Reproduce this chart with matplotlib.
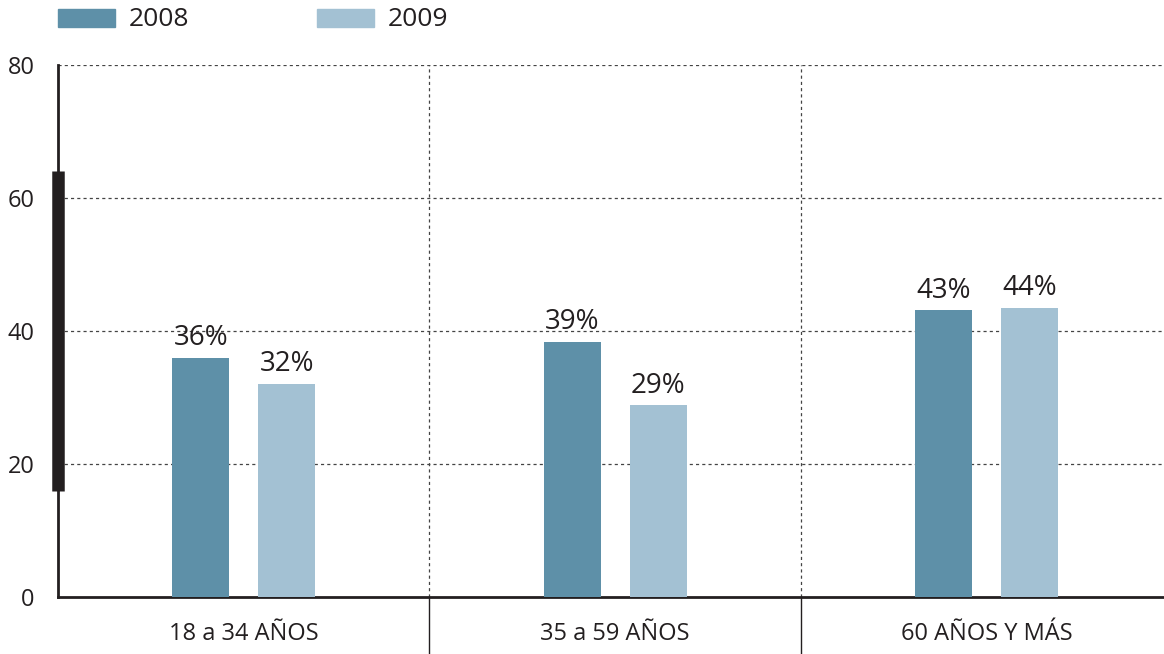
import matplotlib.pyplot as plt
from matplotlib.patches import Rectangle
import numpy as np

plt.rcParams['font.family'] = ['Open Sans', 'DejaVu Sans']

# Data
categories = ['18 a 34 AÑOS', '35 a 59 AÑOS', '60 AÑOS Y MÁS']
series = ['2008', '2009']
vals_2008 = [36, 38.4, 43.1]
vals_2009 = [32.1, 28.8, 43.5]
labels_2008 = ['36%', '39%', '43%']
labels_2009 = ['32%', '29%', '44%']
yticks = [0, 20, 40, 60, 80]

c2008 = '#5e90a8'
c2009 = '#a3c1d3'
dark = '#231f20'

W, H = 1164, 654
fig = plt.figure(figsize=(W / 100, H / 100), dpi=100)
ax = fig.add_axes([58 / W, 57 / H, 1 - 58 / W, (597 - 65) / H])

x = np.arange(len(categories))
w = 0.153
off = 0.116
b1 = ax.bar(x - off, vals_2008, w, color=c2008, zorder=3)
b2 = ax.bar(x + off, vals_2009, w, color=c2009, zorder=3)

for bars, labs in ((b1, labels_2008), (b2, labels_2009)):
    for rect, lab in zip(bars, labs):
        ax.annotate(lab, (rect.get_x() + rect.get_width() / 2, rect.get_height()),
                    xytext=(0, 4), textcoords='offset points',
                    ha='center', va='bottom', fontsize=20, color=dark)

ax.set_xlim(-0.5, -0.5 + (W - 58) / 371.5)
ax.set_ylim(0, 80)

# dotted grid
for yv in yticks[1:]:
    ax.axhline(yv, color='#444444', lw=0.9, ls=(0, (2.5, 2.5)), zorder=1)
for xv in (0.5, 1.5):
    ax.plot([xv, xv], [0, 80], color='#444444', lw=0.9, ls=(0, (2.5, 2.5)), zorder=1)
    ax.plot([xv, xv], [0, -8.5], color=dark, lw=1.0, clip_on=False, zorder=1)

# thick marker on the left axis
ax.plot([0, 0], [16, 64], transform=ax.get_yaxis_transform(), color=dark,
        lw=9, solid_capstyle='butt', clip_on=False, zorder=5)

for s in ('top', 'right'):
    ax.spines[s].set_visible(False)
for s in ('left', 'bottom'):
    ax.spines[s].set_color(dark)
    ax.spines[s].set_linewidth(2)

ax.set_yticks(yticks)
ax.set_yticklabels([str(v) for v in yticks], fontsize=17, color=dark)
ax.set_xticks(x)
ax.set_xticklabels(categories, fontsize=17, color=dark)
ax.tick_params(axis='both', length=0)
ax.tick_params(axis='y', pad=17)
ax.tick_params(axis='x', pad=18)

# legend at the top
for name, col, x0 in zip(series, [c2008, c2009], [58, 317]):
    fig.patches.append(Rectangle((x0 / W, 1 - 27 / H), 57 / W, 18 / H,
                                 transform=fig.transFigure, color=col))
    fig.text((x0 + 71) / W, 1 - 19 / H, name, fontsize=19, color=dark,
             ha='left', va='center')

fig.savefig('out.png', dpi=100)
